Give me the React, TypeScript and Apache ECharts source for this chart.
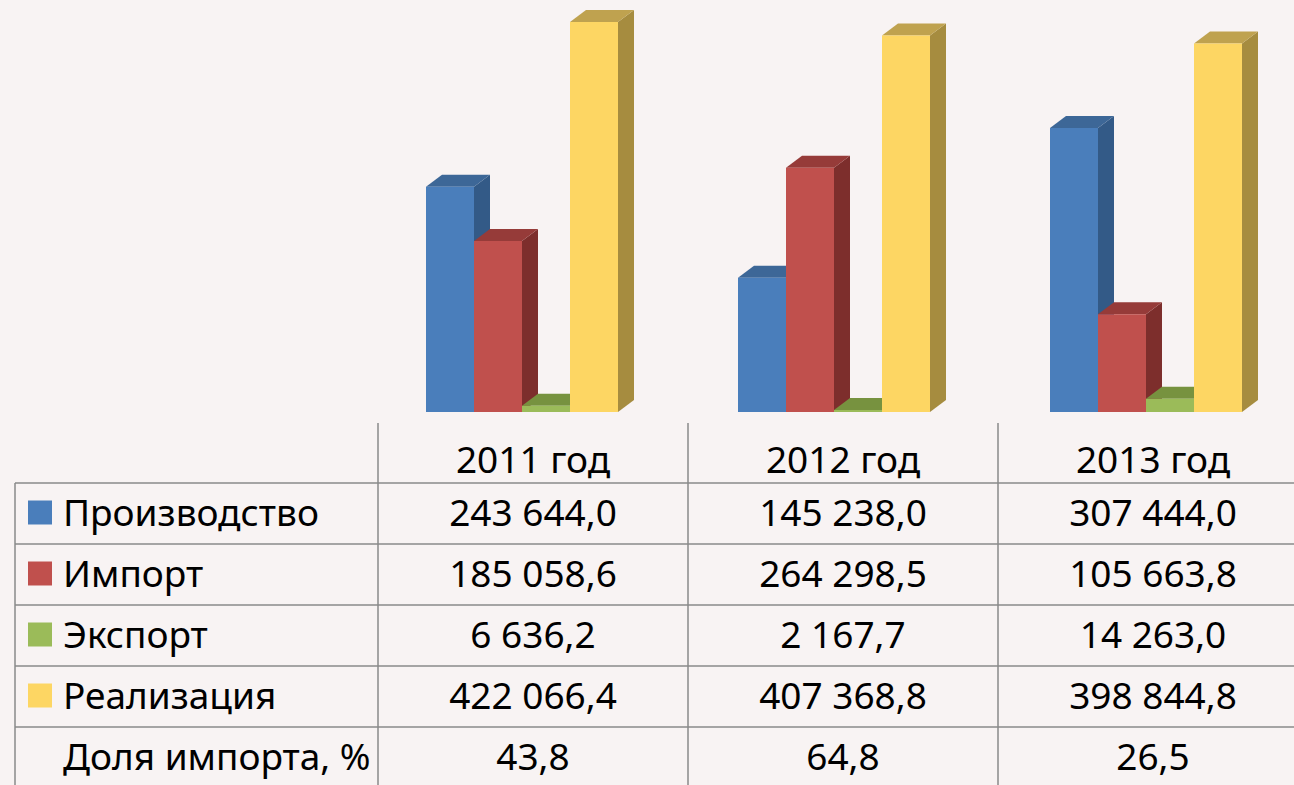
import React, { useEffect, useRef } from "react";
import * as echarts from "echarts";

const categories = ["2011 год", "2012 год", "2013 год"];
const seriesNames = ["Производство", "Импорт", "Экспорт", "Реализация"];
const production = [243644.0, 145238.0, 307444.0];
const importVals = [185058.6, 264298.5, 105663.8];
const exportVals = [6636.2, 2167.7, 14263.0];
const sales = [422066.4, 407368.8, 398844.8];
const importShareLabel = "Доля импорта, %";
const importShare = [43.8, 64.8, 26.5];

const seriesData = [production, importVals, exportVals, sales];
const frontColors = ["#4a7ebb", "#c0504d", "#9bbb59", "#fdd663"];
const topColors = ["#3d6797", "#963b39", "#77923f", "#bfa24f"];
const sideColors = ["#335a87", "#7d2e2c", "#62792f", "#a68c3f"];

const FONT = "'Noto Sans', 'Open Sans', sans-serif";
const FS = 37;

function fmt(v: number): string {
  const [i, d] = v.toFixed(1).split(".");
  const grouped = i.replace(/\B(?=(\d{3})+(?!\d))/g, " ");
  return grouped + "," + d;
}

const BAR_W = 48;
const DX = 16;
const DY = -12;

export default function App() {
  const ref = useRef<HTMLDivElement>(null);
  useEffect(() => {
    if (!ref.current) return;
    const chart = echarts.init(ref.current, null, { renderer: "svg" });

    const series: any[] = seriesData.map((data, s) => ({
      type: "custom",
      name: seriesNames[s],
      data: data.map((v, i) => [i, v]),
      clip: false,
      renderItem: (params: any, api: any) => {
        const idx = api.value(0);
        const val = api.value(1);
        const top = api.coord([idx, val]);
        const base = api.coord([idx, 0]);
        const x0 = top[0] - 2 * BAR_W + s * BAR_W;
        const x1 = x0 + BAR_W;
        const yt = top[1];
        const yb = base[1];
        return {
          type: "group",
          children: [
            {
              type: "polygon",
              shape: { points: [[x1, yt], [x1 + DX, yt + DY], [x1 + DX, yb + DY], [x1, yb]] },
              style: { fill: sideColors[s] },
            },
            {
              type: "polygon",
              shape: { points: [[x0, yt], [x0 + DX, yt + DY], [x1 + DX, yt + DY], [x1, yt]] },
              style: { fill: topColors[s] },
            },
            {
              type: "rect",
              shape: { x: x0, y: yt, width: BAR_W, height: yb - yt },
              style: { fill: frontColors[s] },
            },
          ],
        };
      },
    }));

    const lineColor = "#8a8a8a";
    const colEdges = [378, 688, 998, 1308];
    const rowLines = [483, 544, 605, 666, 727];
    const rowH = 61;
    const g: any[] = [];
    rowLines.forEach((y) => {
      g.push({ type: "line", shape: { x1: 15, y1: y, x2: 1310, y2: y }, style: { stroke: lineColor, lineWidth: 1.5 } });
    });
    g.push({ type: "line", shape: { x1: 15, y1: 483, x2: 15, y2: 785 }, style: { stroke: lineColor, lineWidth: 1.5 } });
    colEdges.slice(0, 3).forEach((x) => {
      g.push({ type: "line", shape: { x1: x, y1: 423, x2: x, y2: 785 }, style: { stroke: lineColor, lineWidth: 1.5 } });
    });
    categories.forEach((c, i) => {
      const cx = (colEdges[i] + colEdges[i + 1]) / 2;
      g.push({
        type: "text",
        x: cx,
        y: 458,
        style: { text: c, fontSize: FS, fontFamily: FONT, fill: "#000", align: "center", verticalAlign: "middle" },
      });
    });
    const allRows = [...seriesData, importShare];
    const allLabels = [...seriesNames, importShareLabel];
    allRows.forEach((row, r) => {
      const cy = 483 + r * rowH + rowH / 2 - 2;
      if (r < 4) {
        g.push({ type: "rect", shape: { x: 28, y: cy - 11, width: 24, height: 24 }, style: { fill: frontColors[r] } });
      }
      g.push({
        type: "text",
        x: 63,
        y: cy,
        style: { text: allLabels[r], fontSize: FS, fontFamily: FONT, fill: "#000", align: "left", verticalAlign: "middle" },
      });
      row.forEach((v, i) => {
        const cx = (colEdges[i] + colEdges[i + 1]) / 2;
        g.push({
          type: "text",
          x: cx,
          y: cy,
          style: { text: fmt(v), fontSize: FS, fontFamily: FONT, fill: "#000", align: "center", verticalAlign: "middle" },
        });
      });
    });

    chart.setOption({
      animation: false,
      backgroundColor: "#f8f3f3",
      grid: { left: 366, width: 936, top: 10, bottom: 373 },
      xAxis: { type: "category", data: categories, show: false },
      yAxis: { type: "value", min: 0, max: 435000, show: false },
      series,
      graphic: g,
    });
    return () => chart.dispose();
  }, []);
  return (
    <div
      ref={ref}
      style={{ position: "fixed", left: 0, top: 0, width: 1310, height: 785 }}
    />
  );
}
